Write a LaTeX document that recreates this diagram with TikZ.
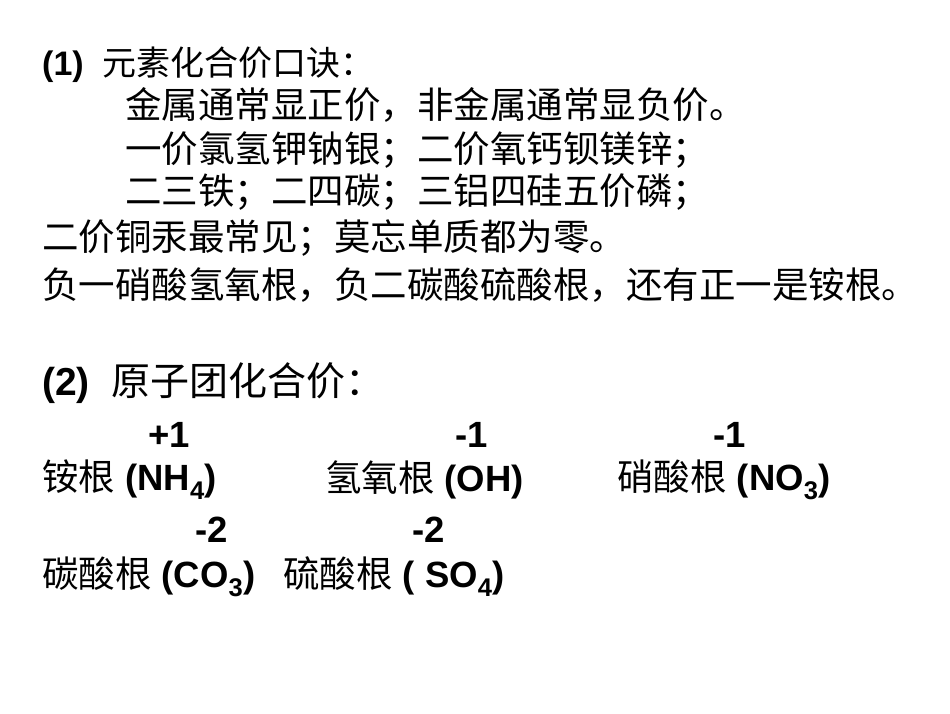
\documentclass[tikz,border=0pt]{standalone}
\usepackage{fontspec}
\setmainfont{Liberation Sans}
\newfontfamily\cjk{Noto Sans CJK SC}
\newfontfamily\lat{Liberation Sans Bold}
\begin{document}
\begin{tikzpicture}[x=1pt,y=-1pt,
  t/.style={anchor=west,inner sep=0pt,font=\fontsize{36.5}{40}\selectfont},
  h/.style={anchor=west,inner sep=0pt,font=\fontsize{39}{43}\selectfont}]
\useasboundingbox[fill=white] (0,0) rectangle (950,713);
\node[t,font=\fontsize{34}{38}\selectfont] (l1) at (42,65) {\lat (1)\ \ \cjk 元素化合价口诀：};
\node[t] (l2) at (125,105) {\cjk 金属通常显正价，非金属通常显负价。};
\node[t] (l3) at (125,150) {\cjk 一价氯氢钾钠银；二价氧钙钡镁锌；};
\node[t] (l4) at (125,192) {\cjk 二三铁；二四碳；三铝四硅五价磷；};
\node[t] (l5) at (42,238) {\cjk 二价铜汞最常见；莫忘单质都为零。};
\node[t] (l6) at (42,285) {\cjk 负一硝酸氢氧根，负二碳酸硫酸根，还有正一是铵根。};
\node[h] (h2) at (42,383) {\lat (2)\ \ \cjk 原子团化合价：};
\node[t] (v1) at (148,435) {\lat +1};
\node[t] (v2) at (455,435) {\lat -1};
\node[t] (v3) at (713,435) {\lat -1};
\node[t] (a1) at (42,480) {\cjk 铵根\lat\ (NH\textsubscript{4})};
\node[t] (a2) at (325,480) {\cjk 氢氧根\lat\ (OH)};
\node[t] (a3) at (617,480) {\cjk 硝酸根\lat\ (NO\textsubscript{3})};
\node[t] (v4) at (195,530) {\lat -2};
\node[t] (v5) at (412,530) {\lat -2};
\node[t] (b1) at (42,577) {\cjk 碳酸根\lat\ (CO\textsubscript{3})};
\node[t] (b2) at (283,577) {\cjk 硫酸根\lat\ ( SO\textsubscript{4})};
\end{tikzpicture}
\end{document}
